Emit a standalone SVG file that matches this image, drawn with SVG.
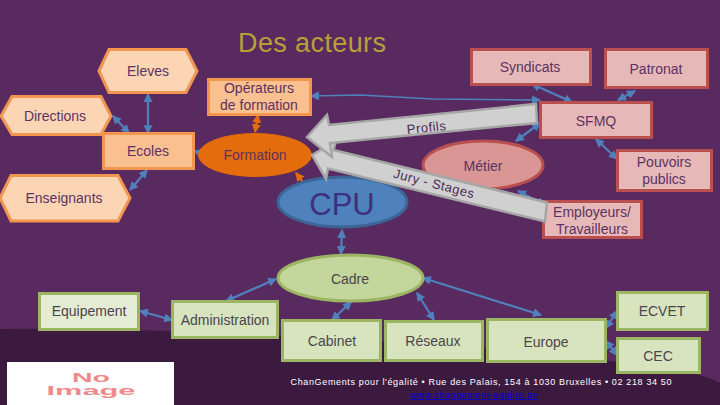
<svg xmlns="http://www.w3.org/2000/svg" width="720" height="405" viewBox="0 0 720 405">
<style>
text{font-family:"Liberation Sans",Arial,sans-serif;font-size:14px;text-anchor:middle;fill:#5c3262}
.o{fill:#fcd5b5;stroke:#f2964f;stroke-width:3}
.o2{fill:#fac090;stroke:#f2964f;stroke-width:3}
.r{fill:#e6b9b8;stroke:#b9504f;stroke-width:3}
.g{fill:#d7e4bd;stroke:#9bb563;stroke-width:3}
text.d{fill:#4c4450}
.c{fill:none;stroke:#4f81bd;stroke-width:2.2;marker-start:url(#a);marker-end:url(#a)}
.co{fill:none;stroke:#e46c0a;stroke-width:2.2;marker-start:url(#b);marker-end:url(#b)}
.big{fill:#d0d0d0;stroke:#a6a6a6;stroke-width:2.5;stroke-linejoin:miter}
.big-t{fill:#4a2a55;font-size:13px;letter-spacing:.5px}
</style>
<defs>
<marker id="a" viewBox="0 0 8 8" refX="7" refY="4" markerWidth="9" markerHeight="9" markerUnits="userSpaceOnUse" orient="auto-start-reverse"><path d="M0 0L8 4L0 8z" fill="#4f81bd"/></marker>
<marker id="b" viewBox="0 0 8 8" refX="7" refY="4" markerWidth="9" markerHeight="9" markerUnits="userSpaceOnUse" orient="auto-start-reverse"><path d="M0 0L8 4L0 8z" fill="#e46c0a"/></marker>
</defs>
<rect width="720" height="405" fill="#592a60"/>
<path d="M0 329C150 327 400 338 600 360C660 366 700 372 720 383V405H0Z" fill="#3c1a40"/>
<text x="312" y="52" style="font-size:27px;fill:#b5a136" textLength="148">Des acteurs</text>

<g id="connectors">
<path class="c" d="M148 94V133"/>
<path class="c" d="M113 116L129 133"/>
<path class="c" d="M147 170L130 190"/>
<path class="c" d="M194 151L207 155"/>
<path class="co" d="M258 115L255 132"/>
<path class="co" d="M296 173L309 190"/>
<path d="M311 96L360 95L433 99L540 100" fill="none" stroke="#4f81bd" stroke-width="1.5" marker-start="url(#a)" marker-end="url(#a)"/>
<path class="c" d="M532 84L572 102"/>
<path class="c" d="M635 91L618 100"/>
<path class="c" d="M540 123L516 141"/>
<path class="c" d="M596 139L617 159"/>
<path class="c" d="M342 230L341 254"/>
<path class="c" d="M276 279L226 301"/>
<path class="c" d="M140 311L172 320"/>
<path class="c" d="M351 302L332 320"/>
<path class="c" d="M417 293L434 320"/>
<path class="c" d="M423 278L541 315"/>
<path class="c" d="M606 328L617 311"/>
<path class="c" d="M606 341L617 355"/>
<path class="c" d="M518 191L545 205"/>
</g>

<g id="eleves"><path class="o" d="M99 71L109 49.5H186L197 71L186 92.5H109Z"/><text x="148" y="76">Eleves</text></g>
<g id="directions"><path class="o" d="M1 116L12 96.5H101L111 116L101 134.500H12Z"/><text x="55" y="121">Directions</text></g>
<g id="ecoles"><rect class="o2" x="103.500" y="133.500" width="90" height="35"/><text x="148" y="156">Ecoles</text></g>
<g id="enseignants"><path class="o" d="M0 198L11 175.500H118L130 198L118 221H11Z"/><text x="64" y="203">Enseignants</text></g>
<g id="operateurs"><rect class="o2" x="208.500" y="79.500" width="102" height="35"/><text x="259" y="93">Opérateurs</text><text x="259" y="110">de formation</text></g>
<g id="formation"><ellipse cx="255" cy="155" rx="56.500" ry="21.500" fill="#e46c0a" stroke="#e46c0a"/><text x="255" y="160">Formation</text></g>
<g id="syndicats"><rect class="r" x="471.500" y="49.500" width="119" height="35"/><text x="530" y="72">Syndicats</text></g>
<g id="patronat"><rect class="r" x="605.500" y="49.500" width="102" height="38"/><text x="656" y="74">Patronat</text></g>
<g id="sfmq"><rect class="r" x="540.500" y="102.500" width="111" height="35"/><text x="596" y="126">SFMQ</text></g>
<g id="metier"><ellipse cx="483" cy="165" rx="60" ry="24" fill="#d99694" stroke="#b9504f" stroke-width="3"/><text x="483" y="171">Métier</text></g>
<g id="pouvoirs"><rect class="r" x="617.500" y="150.500" width="94" height="40"/><text x="664" y="167">Pouvoirs</text><text x="664" y="184">publics</text></g>
<g id="employeurs"><rect class="r" x="543.500" y="201.500" width="98" height="36"/><text x="592" y="217">Employeurs/</text><text x="592" y="234">Travailleurs</text></g>
<g id="cpu"><ellipse cx="342.500" cy="202" rx="64.500" ry="25" fill="#4f81bd" stroke="#3c6595" stroke-width="3"/><text x="342" y="215" style="font-size:31px;fill:#3f2f80">CPU</text></g>

<g id="arrow-jury"><path class="big" d="M312 155L336 141L333.500 150L547 202.500L545 221.500L328 168.500L326 179Z"/><text class="big-t" transform="translate(433 188) rotate(14.500)">Jury - Stages</text></g>
<g id="arrow-profils"><path class="big" d="M307 137L327 115L329 125L536 104L537 123L330 143L332 157Z"/><text class="big-t" transform="translate(427 132) rotate(-6)">Profils</text></g>

<g id="cadre"><ellipse cx="350.500" cy="278" rx="72.500" ry="23" fill="#c3d69b" stroke="#9bb563" stroke-width="3"/><text x="350" y="284" class="d">Cadre</text></g>
<g id="equipement"><rect class="g" x="39.500" y="293.500" width="99" height="36" style="fill:#e4ecd3"/><text class="d" x="89" y="316">Equipement</text></g>
<g id="administration"><rect class="g" x="172.500" y="301.500" width="105" height="36"/><text class="d" x="225" y="325">Administration</text></g>
<g id="cabinet"><rect class="g" x="282.500" y="320.500" width="98" height="40"/><text class="d" x="332" y="346">Cabinet</text></g>
<g id="reseaux"><rect class="g" x="385.500" y="321.500" width="97" height="39"/><text class="d" x="433" y="346">Réseaux</text></g>
<g id="europe"><rect class="g" x="487.500" y="319.500" width="118" height="42"/><text class="d" x="546" y="347">Europe</text></g>
<g id="ecvet"><rect class="g" x="617.500" y="292.500" width="90" height="37"/><text class="d" x="662" y="316">ECVET</text></g>
<g id="cec"><rect class="g" x="617.500" y="338.500" width="82" height="34"/><text class="d" x="658" y="361">CEC</text></g>

<rect x="7" y="362" width="167" height="43" fill="#fff"/>
<text x="91" y="382" style="font-size:12px;font-weight:bold;fill:#f08a8a" textLength="38" lengthAdjust="spacingAndGlyphs">No</text>
<text x="91" y="395" style="font-size:12px;font-weight:bold;fill:#f08a8a" textLength="89" lengthAdjust="spacingAndGlyphs">Image</text>
<text x="481" y="385" style="font-size:9px;fill:#fff" textLength="381">ChanGements pour l'égalité • Rue des Palais, 154 à 1030 Bruxelles • 02 218 34 50</text>
<text x="474" y="398" style="font-size:9px;fill:#0000e0;text-decoration:underline" textLength="127">www.changement-egalite.be</text>
</svg>
